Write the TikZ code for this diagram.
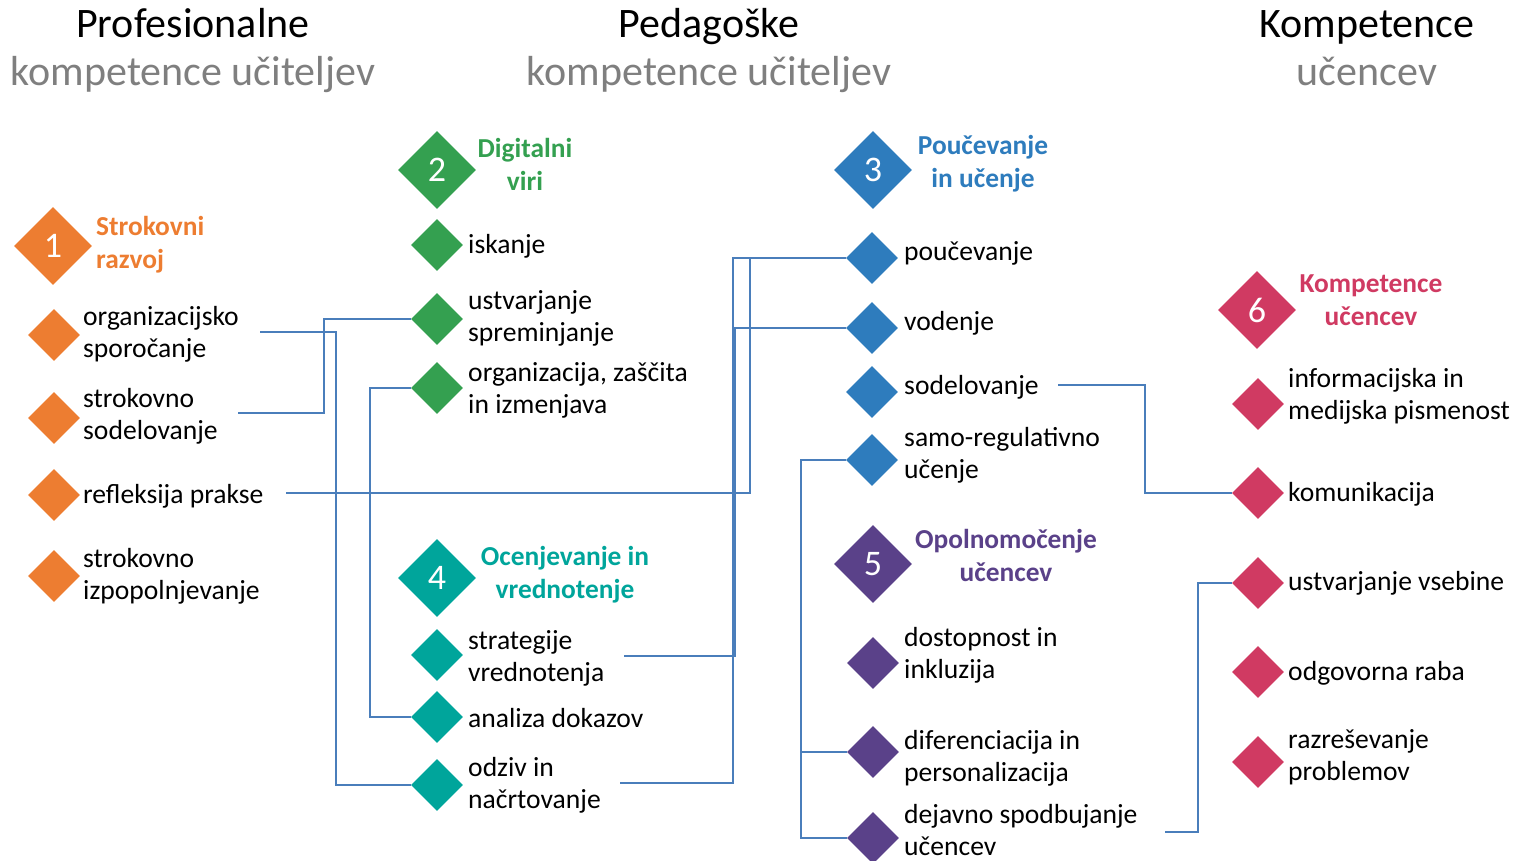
\documentclass[tikz,border=0pt]{standalone}
\usepackage{fontspec}
\setmainfont{Carlito}
\usetikzlibrary{shapes.geometric}

\definecolor{cOrange}{HTML}{ED7D31}
\definecolor{cGreen}{HTML}{34A050}
\definecolor{cBlue}{HTML}{2E7CBD}
\definecolor{cTeal}{HTML}{00A59B}
\definecolor{cPurple}{HTML}{5A4189}
\definecolor{cPink}{HTML}{D03A62}
\definecolor{cLine}{HTML}{4A7EBB}
\definecolor{cGray}{HTML}{7F7F7F}

\tikzset{
  bigdia/.style={shape=diamond, fill=#1, draw=none, minimum width=78pt, minimum height=78pt,
    inner sep=0pt, text=white, font=\fontsize{36}{36}\selectfont},
  smalldia/.style={shape=diamond, fill=#1, draw=none, minimum width=52pt, minimum height=52pt,
    inner sep=0pt},
  item/.style={anchor=west, inner sep=0pt, align=left, font=\fontsize{27.6}{32}\selectfont},
  head/.style={inner sep=0pt, text=#1, font=\bfseries\fontsize{27.4}{33}\selectfont},
  title/.style={inner sep=0pt, align=center, font=\fontsize{42}{48}\selectfont},
  conn/.style={draw=cLine, line width=2.3pt},
}

\begin{document}
\begin{tikzpicture}[x=1pt, y=-1pt]
\useasboundingbox (0,0) rectangle (1517,861);

% column titles
\node[title] (t1) at (193,51) {Profesionalne\\\textcolor{cGray}{kompetence učiteljev}};
\node[title] (t2) at (709,51) {Pedagoške\\\textcolor{cGray}{kompetence učiteljev}};
\node[title] (t3) at (1367,48) {Kompetence\\\textcolor{cGray}{učencev}};

% 1 Strokovni razvoj
\node[bigdia=cOrange] (n1) at (53,246) {1};
\node[head=cOrange, anchor=west, align=left] (h1) at (96,245) {Strokovni\\razvoj};
\node[smalldia=cOrange] (d_org) at (54,335) {};
\node[item] (l_org) at (83,334) {organizacijsko\\sporočanje};
\node[smalldia=cOrange] (d_sso) at (54,418) {};
\node[item] (l_sso) at (83,416) {strokovno\\sodelovanje};
\node[smalldia=cOrange] (d_ref) at (54,495) {};
\node[item] (l_ref) at (83,496) {refleksija prakse};
\node[smalldia=cOrange] (d_izp) at (54,576) {};
\node[item] (l_izp) at (83,576) {strokovno\\izpopolnjevanje};

% 2 Digitalni viri
\node[bigdia=cGreen] (n2) at (437,170) {2};
\node[head=cGreen, align=center] (h2) at (525,164) {Digitalni\\viri};
\node[smalldia=cGreen] (d_isk) at (437,245) {};
\node[item] (l_isk) at (468,246) {iskanje};
\node[smalldia=cGreen] (d_ust) at (437,319) {};
\node[item] (l_ust) at (468,318) {ustvarjanje\\spreminjanje};
\node[smalldia=cGreen] (d_oiz) at (437,388) {};
\node[item] (l_oiz) at (468,390) {organizacija, zaščita\\in izmenjava};

% 4 Ocenjevanje in vrednotenje
\node[bigdia=cTeal] (n4) at (437,578) {4};
\node[head=cTeal, align=center] (h4) at (565,575) {Ocenjevanje in\\vrednotenje};
\node[smalldia=cTeal] (d_str) at (437,655) {};
\node[item] (l_str) at (468,658) {strategije\\vrednotenja};
\node[smalldia=cTeal] (d_ana) at (437,717) {};
\node[item] (l_ana) at (468,718) {analiza dokazov};
\node[smalldia=cTeal] (d_odz) at (437,785) {};
\node[item] (l_odz) at (468,785) {odziv in\\načrtovanje};

% 3 Poučevanje in učenje
\node[bigdia=cBlue] (n3) at (873,170) {3};
\node[head=cBlue, align=center] (h3) at (983,164) {Poučevanje\\in učenje};
\node[smalldia=cBlue] (d_pou) at (872,258) {};
\node[item] (l_pou) at (904,253) {poučevanje};
\node[smalldia=cBlue] (d_vod) at (872,328) {};
\node[item] (l_vod) at (904,323) {vodenje};
\node[smalldia=cBlue] (d_sod) at (872,392) {};
\node[item] (l_sod) at (904,387) {sodelovanje};
\node[smalldia=cBlue] (d_sam) at (872,460) {};
\node[item] (l_sam) at (904,455) {samo-regulativno\\učenje};

% 5 Opolnomočenje učencev
\node[bigdia=cPurple] (n5) at (873,564) {5};
\node[head=cPurple, align=center] (h5) at (1006,555) {Opolnomočenje\\učencev};
\node[smalldia=cPurple] (d_dos) at (873,663) {};
\node[item] (l_dos) at (904,655) {dostopnost in\\inkluzija};
\node[smalldia=cPurple] (d_dif) at (873,752) {};
\node[item] (l_dif) at (904,758) {diferenciacija in\\personalizacija};
\node[smalldia=cPurple] (d_dej) at (873,838) {};
\node[item] (l_dej) at (904,830) {dejavno spodbujanje\\učencev};

% 6 Kompetence učencev
\node[bigdia=cPink] (n6) at (1257,310) {6};
\node[head=cPink, align=center] (h6) at (1371,300) {Kompetence\\učencev};
\node[smalldia=cPink] (d_inf) at (1258,404) {};
\node[item] (l_inf) at (1288,396) {informacijska in\\medijska pismenost};
\node[smalldia=cPink] (d_kom) at (1258,493) {};
\node[item] (l_kom) at (1288,494) {komunikacija};
\node[smalldia=cPink] (d_usv) at (1258,583) {};
\node[item] (l_usv) at (1288,583) {ustvarjanje vsebine};
\node[smalldia=cPink] (d_odg) at (1258,672) {};
\node[item] (l_odg) at (1288,673) {odgovorna raba};
\node[smalldia=cPink] (d_raz) at (1258,762) {};
\node[item] (l_raz) at (1288,757) {razreševanje\\problemov};

% free ends of the connectors, just right of their labels
\coordinate (e_org) at (260,332);
\coordinate (e_sso) at (238,413);
\coordinate (e_ref) at (286,493);
\coordinate (e_str) at (624,656);
\coordinate (e_odz) at (620,783);
\coordinate (e_sod) at (1058,385);
\coordinate (e_dej) at (1165,832);

% connectors
\draw[conn] (e_org) -- ++(76,0) |- (d_odz.west);
\draw[conn] (e_sso) -- ++(86,0) |- (d_ust.west);
\draw[conn] (d_oiz.west) -- ++(-41,0) |- (d_ana.west);
\draw[conn] (e_ref) -- ++(464,0) |- (d_pou.west);
\draw[conn] (e_str) -- ++(111,0) |- (d_vod.west);
\draw[conn] (e_odz) -- ++(113,0) |- (d_pou.west);
\draw[conn] (e_sod) -- ++(87,0) |- (d_kom.west);
\draw[conn] (d_sam.west) -- ++(-45,0) |- (d_dif.west);
\draw[conn] (d_sam.west) -- ++(-45,0) |- (d_dej.west);
\draw[conn] (e_dej) -- ++(33,0) |- (d_usv.west);

\end{tikzpicture}
\end{document}
